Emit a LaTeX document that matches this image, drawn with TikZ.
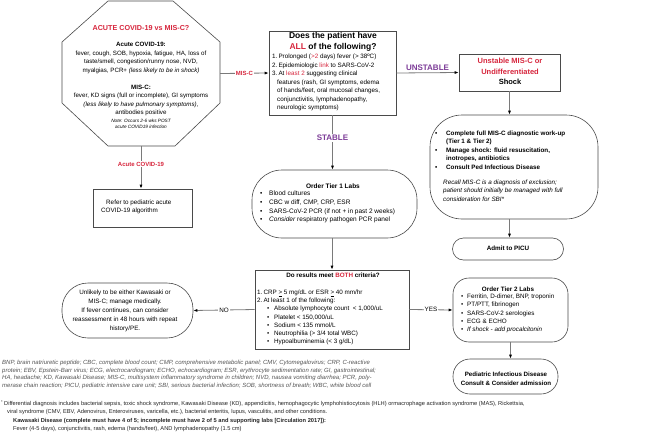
\documentclass[tikz,border=0pt]{standalone}
\usepackage{fontspec}
\setmainfont{Liberation Sans}
\usetikzlibrary{arrows.meta}
\definecolor{cred}{HTML}{D7263D}
\definecolor{cpurple}{HTML}{7D3C98}
\definecolor{cline}{HTML}{7A7A7A}
\definecolor{cbox}{HTML}{4A4A4A}
\definecolor{cfoot}{HTML}{555555}
\newcommand{\fz}[2]{\fontsize{#1}{#2}\selectfont}
\newcommand{\bul}[1]{\makebox[#1][l]{\textbullet}}
\begin{document}
\begin{tikzpicture}[x=1pt,y=-1pt,
  shapebox/.style={draw=cbox, line width=0.6pt, inner sep=0pt},
  conn/.style={draw=cline, line width=0.8pt, -{Latex[length=4pt,width=3pt,color=black]}},
  lbl/.style={fill=white, inner sep=1pt},
  txt/.style={inner sep=0pt, align=left},
  ctxt/.style={inner sep=0pt, align=center}]
\useasboundingbox[fill=white] (0,0) rectangle (659,439);

% ---------- shapes ----------
\node[minimum width=158pt, minimum height=145pt, inner sep=0pt] (oct) at (141,73.5) {};
\draw[draw=cbox, line width=0.6pt] (108,1) -- (173,1) -- (220,42) -- (220,103) -- (175,146) -- (108,146) -- (62,103) -- (62,42) -- cycle;
\node[shapebox, minimum width=127pt, minimum height=84pt] (q) at (332.5,73) {};
\node[shapebox, minimum width=101pt, minimum height=37pt] (un) at (509.5,72.5) {};
\node[shapebox, rounded corners=32pt, minimum width=168pt, minimum height=104pt] (big) at (514,167) {};
\node[shapebox, rounded corners=11pt, minimum width=111pt, minimum height=22pt] (adm) at (508,249) {};
\node[shapebox, minimum width=99pt, minimum height=38pt] (ref) at (142.5,208) {};
\node[shapebox, rounded corners=30pt, minimum width=165pt, minimum height=68pt] (t1) at (334.5,204) {};
\node[shapebox, minimum width=154pt, minimum height=79pt] (dec) at (332,309.5) {};
\node[shapebox, rounded corners=26pt, minimum width=131pt, minimum height=55pt] (unl) at (127.5,310.5) {};
\node[shapebox, rounded corners=16pt, minimum width=115pt, minimum height=64pt] (t2) at (510.5,310) {};
\node[shapebox, rounded corners=17pt, minimum width=105pt, minimum height=35pt] (ped) at (505.5,376.5) {};

% ---------- connectors ----------
\draw[conn] (oct.east) -- node[lbl, font=\fz{6}{7}\bfseries, text=cred] {MIS-C} (q.west);
\draw[conn] (q.east) -- node[above=2pt, inner sep=0pt, font=\fz{8}{9}\bfseries, text=cpurple] {UNSTABLE} (un.west);
\draw[conn] (q.south) -- node[lbl, pos=0.42, font=\fz{8}{9}\bfseries, text=cpurple] {STABLE} (q.south |- t1.north);
\draw[conn] (un.south) -- (un.south |- big.north);
\draw[conn] (un.south |- big.south) -- (un.south |- adm.north);
\draw[conn] (oct.south) -- node[lbl, pos=0.42, font=\fz{6}{7}\bfseries, text=cred] {Acute COVID-19} (oct.south |- ref.north);
\draw[conn] (dec.north |- t1.south) -- (dec.north);
\draw[conn] (dec.west) -- node[lbl, font=\fz{6.3}{7}] {NO} (unl.east);
\draw[conn] (dec.east) -- node[lbl, font=\fz{6.3}{7}] {YES} (t2.west);
\draw[conn] (t2.south) -- (t2.south |- ped.north);

% ---------- octagon text ----------
\node[ctxt, font=\fz{7.2}{9}\bfseries] (octT) at (141,28) {\color{cred}ACUTE COVID-19 vs MIS-C?};
\node[ctxt, font=\fz{6.2}{8.7}] (octA) at (141,58) {\textbf{Acute COVID-19:}\\fever, cough, SOB, hypoxia, fatigue, HA, loss of\\taste/smell, congestion/runny nose, NVD,\\myalgias, PCR+ \textit{(less likely to be in shock)}};
\node[ctxt, font=\fz{6.2}{8.3}] (octM) at (141,100.5) {\textbf{MIS-C:}\\fever, KD signs (full or incomplete), GI symptoms\\\textit{(less likely to have pulmonary symptoms),}\\antibodies positive};
\node[ctxt, font=\fz{4.7}{6.2}\itshape] (octN) at (141,124) {Note: Occurs 2-6 wks POST\\acute COVID19 infection};

% ---------- question box ----------
\node[ctxt, font=\fz{8.5}{11}\bfseries] (qT) at (333,41.5) {Does the patient have\\\textcolor{cred}{ALL} of the following?};
\node[txt, anchor=west, font=\fz{6.3}{8.5}] (qL) at (272,82.5) {1.\,Prolonged (\textcolor{cred}{>2} days) fever (> 38ºC)\\2.\,Epidemiologic \textcolor{cred}{link} to SARS-CoV-2\\3.\,At \textcolor{cred}{least 2} suggesting clinical\\\hspace*{5pt}features (rash, GI symptoms, edema\\\hspace*{5pt}of hands/feet, oral mucosal changes,\\\hspace*{5pt}conjunctivitis, lymphadenopathy,\\\hspace*{5pt}neurologic symptoms)};

% ---------- unstable ----------
\node[ctxt, font=\fz{7.5}{10.5}\bfseries] (unT) at (510,71.5) {\textcolor{cred}{Unstable MIS-C or}\\\textcolor{cred}{Undifferentiated}\\Shock};
\node[txt, anchor=west, font=\fz{6.3}{8.5}\bfseries] (bigL) at (435,150) {\bul{11pt}Complete full MIS-C diagnostic work-up\\\hspace*{11pt}(Tier 1 \& Tier 2)\\\bul{11pt}Manage shock: fluid resuscitation,\\\hspace*{11pt}inotropes, antibiotics\\\bul{11pt}Consult Ped Infectious Disease};
\node[txt, anchor=west, font=\fz{6.3}{8.5}\itshape] (bigI) at (443,190.5) {Recall MIS-C is a diagnosis of exclusion;\\patient should initially be managed with full\\consideration for SBI*};
\node[ctxt, font=\fz{6.3}{8}\bfseries] (admT) at (508,248.5) {Admit to PICU};

% ---------- refer ----------
\node[txt, anchor=west, font=\fz{6.3}{8.5}] (refT) at (101,207) {\hspace*{5pt}Refer to pediatric acute\\COVID-19 algorithm};

% ---------- tier 1 ----------
\node[ctxt, font=\fz{6.5}{8}\bfseries] (t1T) at (333,186) {Order Tier 1 Labs};
\node[txt, anchor=west, font=\fz{6.5}{8.7}] (t1L) at (260,207) {\bul{9pt}Blood cultures\\\bul{9pt}CBC w diff, CMP, CRP, ESR\\\bul{9pt}SARS-CoV-2 PCR (if not + in past 2 weeks)\\\bul{9pt}\textit{Consider} respiratory pathogen PCR panel};

% ---------- decision ----------
\node[ctxt, font=\fz{6.3}{8}\bfseries] (decT) at (333,275) {Do results meet \textcolor{cred}{BOTH} criteria?};
\node[txt, anchor=west, font=\fz{6.3}{8.2}] (decL) at (257,317.5) {1.\,CRP \underline{>} 5 mg/dL or ESR \underline{>} 40 mm/hr\\2.\,At least 1 of the following:\\\hspace*{10pt}\bul{7pt}Absolute lymphocyte count\ \ < 1,000/uL\\\hspace*{10pt}\bul{7pt}Platelet < 150,000/uL\\\hspace*{10pt}\bul{7pt}Sodium < 135 mmol/L\\\hspace*{10pt}\bul{7pt}Neutrophilia (> 3/4 total WBC)\\\hspace*{10pt}\bul{7pt}Hypoalbuminemia (< 3 g/dL)};

% ---------- unlikely ----------
\node[ctxt, font=\fz{6.3}{9}] (unlT) at (125,311) {Unlikely to be either Kawasaki or\\MIS-C; manage medically.\\If fever continues, can consider\\reassessment in 48 hours with repeat\\history/PE.};

% ---------- tier 2 ----------
\node[ctxt, font=\fz{6.3}{8}\bfseries] (t2T) at (508,289) {Order Tier 2 Labs};
\node[txt, anchor=west, font=\fz{6.3}{8.3}] (t2L) at (461,313.5) {\bul{6pt}Ferritin, D-dimer, BNP, troponin\\\bul{6pt}PT/PTT, fibrinogen\\\bul{6pt}SARS-CoV-2 serologies\\\bul{6pt}ECG \& ECHO\\\bul{6pt}\textit{If shock - add procalcitonin}};

% ---------- ped ID ----------
\node[ctxt, font=\fz{6.2}{9}\bfseries] (pedT) at (506,378.5) {Pediatric Infectious Disease\\Consult \& Consider admission};

% ---------- footnotes ----------
\node[txt, anchor=west, font=\fz{6}{7.7}\itshape, text=cfoot] (fab) at (2,374.5) {BNP, brain natriuretic peptide; CBC, complete blood count; CMP, comprehensive metabolic panel; CMV, Cytomegalovirus; CRP, C-reactive\\protein; EBV, Epstein-Barr virus; ECG, electrocardiogram; ECHO, echocardiogram; ESR, erythrocyte sedimentation rate; GI, gastrointestinal;\\HA, headache; KD, Kawasaki Disease; MIS-C, multisystem inflammatory syndrome in children; NVD, nausea vomiting diarrhea; PCR, poly-\\merase chain reaction; PICU, pediatric intensive care unit; SBI, serious bacterial infection; SOB, shortness of breath; WBC, white blood cell};
\node[txt, anchor=west, font=\fz{5.7}{8.2}, text=black!85] (fdd) at (1,416) {\textsuperscript{*}\,Differential diagnosis includes bacterial sepsis, toxic shock syndrome, Kawasaki Disease (KD), appendicitis, hemophagocytic lymphohistiocytosis (HLH) ormacrophage activation syndrome (MAS), Rickettsia,\\\hspace*{6pt}viral syndrome (CMV, EBV, Adenovirus, Enteroviruses, varicella, etc.), bacterial enteritis, lupus, vasculitis, and other conditions.\\\hspace*{12pt}\textbf{Kawasaki Disease (complete must have 4 of 5; incomplete must have 2 of 5 and supporting labs [Circulation 2017]):}\\\hspace*{12pt}Fever (4-5 days), conjunctivitis, rash, edema (hands/feet), AND lymphadenopathy (1.5 cm)};
\end{tikzpicture}
\end{document}
